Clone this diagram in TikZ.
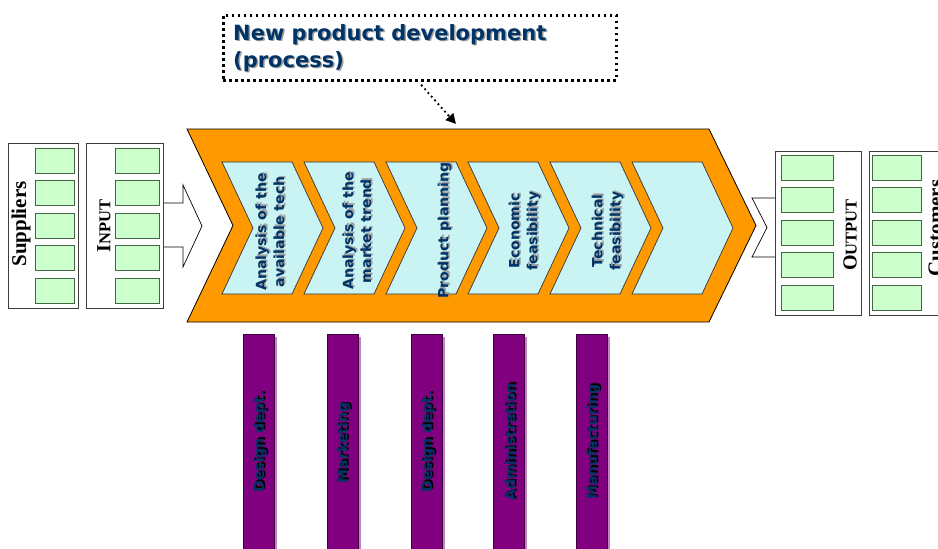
\documentclass[tikz,border=0pt]{standalone}
\usepackage{fontspec}
\setmainfont{DejaVu Sans}
\newfontfamily\timesbf{Liberation Serif}
\usetikzlibrary{arrows.meta}

\definecolor{procorange}{RGB}{255,153,0}
\definecolor{stepcyan}{RGB}{202,243,243}
\definecolor{slotgreen}{RGB}{204,255,204}
\definecolor{slotedge}{RGB}{70,100,70}
\definecolor{frameedge}{RGB}{60,60,60}
\definecolor{navytext}{RGB}{0,51,102}
\definecolor{deptpurple}{RGB}{128,0,128}
\definecolor{deptedge}{RGB}{60,0,60}
\definecolor{deptshade}{RGB}{196,130,196}
\definecolor{softgray}{RGB}{160,160,160}

% text with a drop shadow: name, position, shadow colour, style, text
\newcommand\shadowlabel[5]{%
  \node[#4, text=#3, xshift=1.5pt, yshift=-1.5pt] (#1-sh) at #2 {#5};
  \node[#4] (#1) at #2 {#5};
}

\tikzset{
  bigarrow/.style={fill=procorange, draw=black, line width=0.8pt, line join=miter},
  stepshape/.style={fill=stepcyan, draw=black!80, line width=0.7pt},
  steptext/.style={rotate=90, font=\fontsize{14}{18}\selectfont\bfseries,
    text=navytext, align=center, inner sep=0pt},
  deptbar/.style={fill=deptpurple, draw=deptedge, line width=0.8pt},
  deptglow/.style={fill=deptshade},
  depttext/.style={rotate=90, font=\fontsize{14}{16}\selectfont\bfseries,
    text=navytext, inner sep=0pt},
  frame/.style={draw=frameedge, fill=white, line width=0.8pt},
  slot/.style={draw=slotedge, fill=slotgreen, line width=0.6pt},
  sidetext/.style={rotate=90, inner sep=0pt, text=black},
  openarrow/.style={draw=black, fill=white, line width=0.7pt, line join=miter},
  titlebox/.style={draw=black, line width=2.5pt, dash pattern=on 2.5pt off 3.5pt,
    inner sep=0pt},
  titletext/.style={font=\fontsize{21}{27}\selectfont\bfseries, text=navytext,
    align=left, inner sep=0pt},
  pointer/.style={line width=2.6pt, dash pattern=on 0pt off 5pt, line cap=round,
    -{Triangle[length=10pt,width=10pt]}}
}

\begin{document}
\begin{tikzpicture}[x=1pt, y=-1pt]
\useasboundingbox (0,0) rectangle (938,549);
\clip (0,0) rectangle (938,549);
\fill[white] (0,0) rectangle (938,549);

% ---- supplier side ----
\draw[openarrow] (163,203) -- (183,203) -- (183,185) -- (202,226)
  -- (183,267) -- (183,247) -- (163,247);
\draw[frame] (8,143) rectangle (78,308);
\foreach \y in {148,180.5,213,245.5,278}
  \draw[slot] (35,\y) rectangle ++(39,25);
\node[sidetext, font=\timesbf\bfseries\fontsize{21}{21}\selectfont] (suppliers) at (21,224) {Suppliers};

\draw[frame] (86,143) rectangle (163,308);
\foreach \y in {148,180.5,213,245.5,278}
  \draw[slot] (115,\y) rectangle ++(44,25);
\node[sidetext, font=\timesbf\bfseries] (input) at (104,226)
  {{\fontsize{20}{20}\selectfont I}{\fontsize{16.5}{16.5}\selectfont NPUT}};

% ---- process chevron ----
\draw[bigarrow] (187,129) -- (709,129) -- (756,225.5) -- (709,322)
  -- (187,322) -- (233,225.5) -- cycle;
\foreach \x in {222,304,386,468,550,632}
  \draw[stepshape] (\x,162) -- ++(70,0) -- ++(31,66) -- ++(-31,66)
    -- ++(-70,0) -- ++(31,-66) -- cycle;

\shadowlabel{step1}{(270,232)}{softgray}{steptext}{Analysis of the\\available tech}
\shadowlabel{step2}{(357,231)}{softgray}{steptext}{Analysis of the\\market trend}
\shadowlabel{step3}{(444.5,230.5)}{softgray}{steptext}{Product planning}
\shadowlabel{step4}{(524.5,231)}{softgray}{steptext}{Economic\\feasibility}
\shadowlabel{step5}{(607.5,231)}{softgray}{steptext}{Technical\\feasibility}

% ---- customer side ----
\draw[openarrow] (775,198) -- (752,198) -- (767,227.5) -- (752,257) -- (775,257);
\draw[frame] (775,151) rectangle (861,315);
\foreach \y in {155,187.5,220,252.5,285}
  \draw[slot] (781,\y) rectangle ++(52,25);
\node[sidetext, font=\timesbf\bfseries] (output) at (850,235)
  {{\fontsize{20}{20}\selectfont O}{\fontsize{16.5}{16.5}\selectfont UTPUT}};

\draw[frame] (869,151) rectangle (960,315);
\foreach \y in {155,187.5,220,252.5,285}
  \draw[slot] (872,\y) rectangle ++(49,25);
\node[sidetext, font=\timesbf\bfseries\fontsize{21}{21}\selectfont] (customers) at (935.5,228) {Customers};

% ---- departments ----
\foreach \x in {243,327,411,493,576}{
  \fill[deptglow] (\x+3,337) rectangle (\x+34,560);
  \draw[deptbar] (\x,334) rectangle (\x+31,560);
}
\shadowlabel{dept1}{(260,442)}{black}{depttext}{Design dept.}
\shadowlabel{dept2}{(343.5,443)}{black}{depttext}{Marketing}
\shadowlabel{dept3}{(428,442)}{black}{depttext}{Design dept.}
\shadowlabel{dept4}{(510,442)}{black}{depttext}{Administration}
\shadowlabel{dept5}{(593,442)}{black}{depttext}{Manufacturing}

% ---- title and pointer ----
\node[titlebox, anchor=north west, minimum width=393pt, minimum height=65pt]
  (titlebox) at (222,14) {};
\shadowlabel{title}{(233,48)}{softgray}{titletext, anchor=west}{New product development\\(process)}
\coordinate (pointtip) at (456,124);
\draw[pointer] ([xshift=2pt,yshift=-4pt]titlebox.south) -- (pointtip);
\end{tikzpicture}
\end{document}
